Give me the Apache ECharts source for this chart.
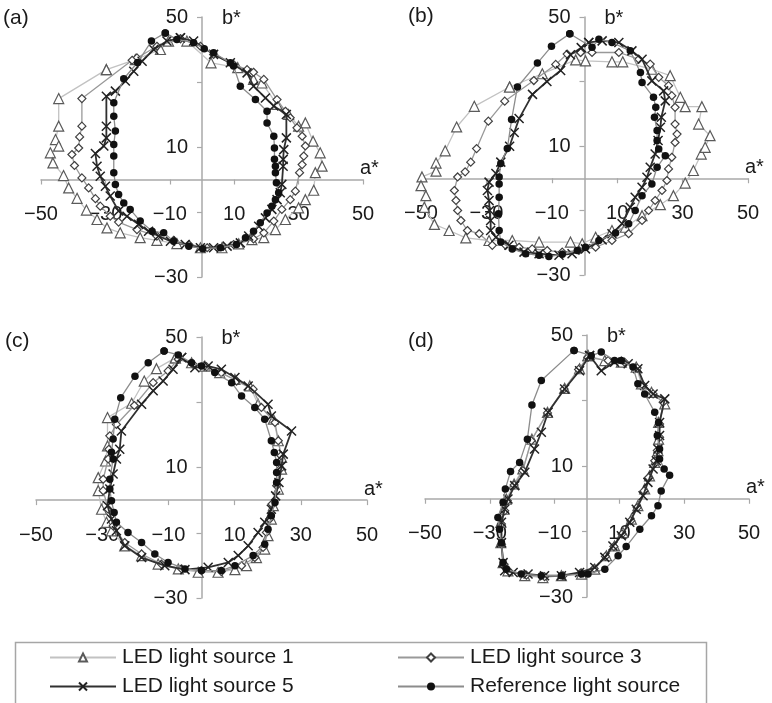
<!DOCTYPE html>
<html>
<head>
<meta charset="utf-8">
<script src="https://cdn.jsdelivr.net/npm/echarts@6/dist/echarts.min.js"></script>
<style>
html,body{margin:0;padding:0;background:#fff;}
#chart{width:772px;height:703px;}
</style>
</head>
<body>
<div id="chart"></div>
<script>
// ---- Tick labels ----
const xTicks = [-50, -30, -10, 10, 30, 50];
const yTicks = [-30, -10, 10, 30, 50];
const yLabelsShown = [-30, 10, 50];
const panelLabels = ['(a)', '(b)', '(c)', '(d)'];
const seriesNames = ['LED light source 1', 'LED light source 3', 'LED light source 5', 'Reference light source'];

// ---- Panel (a) data: [a*, b*] ----
const a_LED1 = [[-29.7,33.8],[-44.5,24.9],[-44.5,16.4],[-45.5,12.3],[-44.5,10.3],[-47.1,8.2],[-46.3,5.1],[-43.0,1.2],[-41.4,-2.6],[-38.8,-5.8],[-35.9,-9.4],[-32.6,-12.3],[-29.5,-14.9],[-25.4,-16.4],[-19.2,-17.9],[-14.0,-18.7],[-7.8,-19.7],[-0.5,-21.0],[6.2,-21.0],[11.4,-19.8],[15.5,-18.5],[19.2,-17.9],[22.8,-15.4],[25.9,-12.3],[30.0,-8.7],[32.1,-6.2],[34.7,-3.3],[35.2,2.1],[37.3,4.1],[36.7,8.2],[34.5,11.8],[32.1,17.4],[30.0,16.4],[26.9,20.0],[23.3,23.1],[18.6,29.7],[16.0,30.8],[11.1,34.4],[2.8,35.9],[-4.7,42.6],[-10.4,42.6],[-12.9,40.0],[-20.7,36.9],[-29.7,33.8]];
const a_LED3 = [[-6.7,43.3],[-14.0,41.0],[-20.2,37.4],[-21.7,36.7],[-37.3,24.9],[-37.3,16.4],[-38.0,13.1],[-38.3,9.7],[-40.4,7.7],[-39.6,4.3],[-37.3,0.5],[-35.2,-2.6],[-33.1,-5.9],[-31.6,-8.2],[-28.5,-11.3],[-25.9,-13.1],[-20.2,-15.4],[-14.0,-17.4],[-8.8,-18.7],[-4.1,-20.0],[1.6,-21.0],[9.8,-20.0],[16.0,-18.3],[19.2,-16.4],[22.3,-12.8],[24.8,-9.2],[27.4,-6.2],[29.0,-3.6],[30.3,2.1],[31.1,4.6],[31.6,7.2],[32.1,10.3],[31.1,13.3],[29.5,15.9],[27.4,19.0],[25.9,21.0],[23.3,24.6],[19.2,30.8],[16.0,33.0],[14.0,33.8],[9.8,35.4],[3.6,38.5],[-0.5,41.0],[-6.7,43.3]];
const a_LED5 = [[-6.7,43.6],[-2.6,42.6],[3.6,38.5],[8.8,35.9],[14.0,32.8],[16.0,28.7],[19.7,25.1],[22.3,22.6],[26.2,20.0],[26.2,12.8],[25.4,9.2],[25.2,6.2],[25.2,4.1],[24.8,-1.5],[24.3,-4.1],[23.3,-6.2],[21.7,-9.2],[19.7,-11.8],[17.6,-14.4],[14.5,-17.4],[11.9,-19.5],[7.8,-20.5],[3.6,-21.0],[-0.5,-21.0],[-5.2,-20.0],[-9.8,-19.0],[-13.5,-17.4],[-16.6,-15.9],[-19.7,-13.8],[-23.3,-11.3],[-25.9,-9.7],[-28.5,-5.1],[-30.0,-2.1],[-31.6,1.0],[-32.6,4.1],[-33.1,8.0],[-30.5,10.3],[-29.7,12.8],[-29.7,16.4],[-29.7,25.6],[-26.9,27.2],[-23.8,30.3],[-21.2,33.3],[-18.6,36.4],[-15.0,40.0],[-10.9,42.6],[-6.7,43.6]];
const a_Ref = [[-11.4,45.1],[-15.7,42.6],[-20.0,36.0],[-24.3,31.0],[-27.4,23.6],[-27.4,19.5],[-26.9,14.9],[-27.4,10.8],[-27.4,7.2],[-27.4,2.1],[-26.9,-1.5],[-25.9,-4.6],[-24.3,-7.2],[-22.3,-9.2],[-19.2,-12.8],[-15.5,-15.9],[-11.9,-16.4],[-8.8,-19.0],[-4.1,-20.5],[0.2,-21.3],[5.7,-21.0],[10.7,-20.0],[13.5,-17.9],[16.0,-15.9],[18.1,-13.3],[20.2,-10.3],[21.7,-8.2],[22.8,-6.2],[23.8,-4.1],[23.1,-1.0],[22.8,2.1],[22.8,4.1],[22.5,6.2],[22.5,9.7],[22.3,13.3],[20.2,17.4],[20.2,21.0],[16.6,24.6],[11.9,28.7],[9.8,34.9],[8.8,35.9],[3.6,39.0],[0.7,40.2],[-2.6,42.1],[-7.8,43.1],[-11.4,45.1]];

// ---- Panel (b) data ----
const b_LED1 = [[-22.9,28.3],[-33.7,22.3],[-39.1,15.9],[-42.6,8.5],[-45.4,4.7],[-45.4,2.2],[-49.7,0.4],[-50.0,-2.3],[-48.5,-5.4],[-49.0,-9.0],[-45.9,-14.3],[-41.4,-16.2],[-36.3,-18.5],[-29.2,-19.3],[-22.1,-19.3],[-13.9,-19.8],[-4.3,-19.8],[-0.7,-20.3],[3.4,-18.3],[8.4,-16.2],[12.5,-15.2],[17.6,-11.6],[23.2,-8.2],[27.2,-5.4],[30.8,-1.5],[33.3,2.4],[35.7,7.5],[36.9,9.6],[38.4,13.2],[34.9,16.8],[35.9,22.2],[30.8,22.2],[29.3,25.1],[26.2,31.8],[20.6,33.8],[11.7,36.1],[8.4,36.1],[0.3,36.4],[-2.7,36.7],[-12.9,32.4],[-22.9,28.3]];
const b_LED3 = [[-1.2,39.0],[2.3,39.0],[10.5,39.0],[16.6,36.9],[20.1,35.4],[22.7,31.3],[25.7,28.7],[26.7,25.6],[27.7,22.0],[27.7,16.8],[28.3,13.7],[27.7,11.1],[26.7,6.5],[25.7,2.9],[25.2,-0.7],[23.7,-3.8],[21.6,-6.9],[19.6,-10.0],[17.6,-13.1],[13.5,-17.2],[8.4,-19.3],[3.4,-21.4],[-1.7,-22.4],[-6.8,-22.9],[-11.4,-22.4],[-16.0,-21.9],[-20.0,-21.4],[-24.1,-20.8],[-28.2,-20.8],[-32.2,-17.2],[-35.8,-16.2],[-37.8,-13.1],[-38.8,-10.0],[-39.3,-6.9],[-39.8,-3.8],[-38.8,0.4],[-36.5,2.0],[-34.8,5.0],[-33.0,9.2],[-29.4,17.7],[-24.4,23.9],[-15.5,30.3],[-8.8,35.3],[-5.3,38.5],[-1.2,39.0]];
const b_LED5 = [[1.3,42.1],[5.4,42.6],[10.5,42.1],[14.5,39.5],[17.6,36.9],[20.6,30.2],[24.2,27.1],[24.7,24.0],[23.5,18.9],[23.2,15.8],[22.5,11.7],[21.6,7.5],[20.1,3.4],[19.1,0.3],[17.6,-2.8],[15.5,-5.9],[14.0,-9.0],[11.5,-14.1],[8.4,-17.2],[5.4,-19.1],[0.3,-21.9],[-3.8,-23.4],[-7.8,-23.9],[-13.9,-23.4],[-18.5,-22.9],[-23.1,-20.8],[-27.1,-18.3],[-28.7,-16.2],[-28.7,-13.1],[-29.0,-10.0],[-29.2,-6.9],[-29.7,-3.8],[-29.2,-1.2],[-27.1,1.5],[-25.6,5.0],[-22.9,9.9],[-21.5,14.2],[-20.0,18.5],[-15.9,26.0],[-11.5,30.0],[-7.3,33.4],[-4.3,38.3],[-1.0,40.5],[1.3,42.1]];
const b_Ref = [[-4.5,44.8],[-10.1,40.9],[-14.4,35.7],[-20.5,28.3],[-22.3,18.2],[-23.6,9.2],[-25.6,4.6],[-26.1,0.4],[-26.1,-1.8],[-26.1,-5.9],[-26.3,-11.0],[-26.1,-16.2],[-25.6,-19.8],[-22.1,-21.9],[-18.0,-23.4],[-13.9,-23.9],[-10.9,-24.3],[-6.8,-23.6],[-2.2,-22.4],[0.3,-21.4],[4.4,-19.3],[9.5,-17.0],[13.5,-14.1],[15.5,-10.0],[17.6,-5.4],[20.6,-1.8],[22.2,3.4],[24.7,7.0],[22.7,9.1],[22.2,11.7],[22.2,14.8],[21.4,18.9],[21.8,22.0],[21.1,25.1],[17.6,29.7],[17.1,32.8],[14.0,39.5],[8.4,42.1],[4.4,43.1],[2.3,40.6],[-4.5,44.8]];

// ---- Panel (c) data ----
const c_LED1 = [[-7.9,43.6],[-13.6,40.3],[-17.3,36.5],[-21.1,29.7],[-28.4,25.3],[-28.4,16.6],[-29.0,12.0],[-31.2,6.9],[-31.2,2.9],[-30.2,-2.8],[-28.7,-6.8],[-27.2,-9.4],[-23.2,-14.0],[-18.1,-17.0],[-13.1,-19.6],[-7.0,-21.1],[-1.0,-22.1],[5.0,-22.1],[10.1,-21.3],[13.6,-20.1],[16.6,-17.6],[19.1,-15.0],[20.1,-10.9],[21.1,-5.8],[21.7,-1.7],[23.2,3.4],[24.2,9.5],[24.2,13.1],[23.2,18.2],[21.7,24.8],[17.1,29.4],[14.6,35.0],[10.1,37.0],[5.5,39.1],[1.0,41.1],[-3.0,42.1],[-7.9,43.6]];
const c_LED3 = [[-7.0,43.2],[-10.1,39.6],[-14.6,36.0],[-20.3,29.0],[-25.7,23.2],[-27.7,19.7],[-28.0,15.6],[-28.2,12.6],[-29.7,6.4],[-29.7,2.9],[-28.2,-2.8],[-26.7,-7.9],[-23.2,-13.0],[-18.1,-16.5],[-12.1,-19.6],[-6.0,-21.1],[0.0,-21.6],[6.0,-21.9],[12.1,-20.1],[16.1,-17.6],[18.6,-14.5],[19.6,-9.9],[20.6,-5.8],[21.3,-1.2],[22.7,4.4],[23.7,9.5],[24.0,13.6],[23.2,18.2],[22.2,23.8],[18.1,28.4],[15.6,34.0],[10.6,36.5],[6.0,39.1],[1.5,40.9],[-2.5,41.6],[-7.0,43.2]];
const c_LED5 = [[-6.0,43.7],[-8.6,40.1],[-11.6,36.5],[-14.6,33.5],[-18.1,29.4],[-24.2,21.2],[-24.7,15.6],[-25.7,12.6],[-26.7,8.0],[-27.7,3.4],[-28.4,-1.7],[-27.2,-5.8],[-25.7,-9.4],[-23.2,-14.0],[-18.1,-17.6],[-11.1,-20.1],[-5.0,-21.3],[2.0,-20.6],[8.1,-19.1],[11.1,-17.0],[14.1,-14.0],[17.1,-9.9],[19.1,-6.8],[21.1,-2.8],[22.4,1.3],[23.4,5.4],[24.2,10.5],[24.7,14.1],[27.2,21.2],[21.1,25.8],[20.1,29.4],[14.1,35.0],[10.1,37.6],[6.0,40.1],[2.0,41.1],[-2.0,40.6],[-6.0,43.7]];
const c_Ref = [[-11.3,45.7],[-16.1,42.1],[-20.1,38.0],[-24.4,31.4],[-26.2,24.8],[-26.7,18.7],[-27.2,14.7],[-26.7,12.6],[-27.7,6.4],[-27.7,3.4],[-27.2,-0.2],[-26.4,-3.8],[-25.7,-6.8],[-22.2,-9.9],[-18.1,-13.0],[-14.1,-16.5],[-10.1,-19.1],[-5.0,-21.1],[0.0,-21.6],[6.0,-21.6],[10.1,-20.1],[15.6,-17.0],[19.1,-13.5],[20.1,-8.9],[21.1,-4.8],[22.2,-0.7],[22.7,5.4],[22.7,8.5],[22.7,11.5],[22.0,14.6],[21.1,18.2],[19.1,24.8],[16.1,28.4],[12.1,31.9],[9.1,36.0],[4.0,39.1],[0.0,41.1],[-3.0,42.1],[-7.0,44.5],[-11.3,45.7]];

// ---- Panel (d) data ----
const d_LED1 = [[0.3,43.7],[5.5,42.2],[10.6,41.7],[15.2,40.2],[16.8,35.1],[19.9,32.5],[24.0,29.0],[22.1,23.3],[22.1,18.2],[21.9,14.7],[20.9,11.1],[19.3,7.0],[17.8,3.0],[15.7,-2.1],[13.7,-6.2],[11.1,-10.3],[8.5,-14.4],[6.0,-17.4],[2.4,-21.5],[-1.7,-23.0],[-7.9,-23.5],[-13.6,-24.1],[-19.2,-23.5],[-24.4,-22.0],[-25.9,-19.5],[-26.6,-13.4],[-26.6,-7.2],[-25.6,-3.2],[-24.9,-0.1],[-22.5,4.5],[-19.8,9.1],[-17.0,18.2],[-12.2,26.4],[-6.9,33.7],[-2.3,39.7],[0.3,43.7]];
const d_LED3 = [[0.3,43.2],[6.5,42.2],[11.6,41.7],[15.5,39.9],[17.3,34.6],[20.4,32.0],[23.5,29.5],[22.4,22.8],[22.4,18.8],[21.7,14.7],[20.9,11.6],[19.0,6.5],[17.6,2.4],[15.5,-2.7],[13.5,-6.7],[10.8,-10.8],[8.3,-14.6],[5.7,-17.6],[2.2,-21.3],[-2.0,-22.7],[-7.4,-23.5],[-13.1,-23.8],[-18.7,-23.3],[-23.9,-22.3],[-25.6,-20.0],[-26.4,-13.9],[-26.4,-7.7],[-25.4,-3.7],[-24.6,-0.6],[-22.5,4.2],[-19.8,8.6],[-17.2,17.7],[-12.2,26.2],[-7.1,33.5],[-2.6,39.5],[0.3,43.2]];
const d_LED5 = [[0.8,43.7],[4.4,39.1],[8.5,41.7],[12.7,41.2],[15.7,39.7],[17.8,34.6],[20.4,32.0],[24.0,30.5],[22.4,23.3],[22.4,19.3],[21.9,15.2],[21.4,11.6],[20.4,9.1],[18.8,5.0],[17.3,0.9],[15.2,-3.2],[13.2,-7.2],[10.6,-11.3],[8.0,-14.4],[5.5,-17.9],[2.4,-21.0],[-2.3,-22.5],[-7.9,-23.5],[-13.1,-23.5],[-18.2,-23.0],[-22.8,-22.5],[-25.4,-22.0],[-25.9,-19.5],[-26.4,-13.4],[-26.4,-7.2],[-25.4,-3.2],[-24.4,-0.1],[-22.3,4.0],[-19.2,8.1],[-16.2,15.2],[-14.1,20.3],[-12.0,26.4],[-6.9,33.5],[-2.3,39.1],[0.8,43.7]];
const d_Ref = [[-4.0,45.3],[-14.1,36.1],[-17.0,28.6],[-18.4,18.2],[-20.8,11.1],[-23.6,8.3],[-25.2,3.0],[-25.9,-1.1],[-27.5,-5.7],[-27.0,-9.3],[-26.4,-13.4],[-25.9,-19.5],[-24.9,-21.5],[-20.3,-23.0],[-14.1,-23.5],[-7.9,-23.5],[-1.7,-23.0],[0.3,-23.0],[5.5,-21.5],[9.6,-17.4],[12.1,-14.6],[16.3,-9.3],[19.9,-5.2],[21.9,-2.1],[22.9,2.4],[25.5,7.2],[23.8,9.1],[22.4,12.1],[22.4,15.2],[21.7,19.3],[22.1,23.3],[20.9,26.4],[17.8,32.0],[15.7,35.1],[14.2,40.2],[10.6,42.2],[8.5,42.2],[4.4,44.8],[1.3,43.7],[-4.0,45.3]];

const panelData = [
  [a_LED1, a_LED3, a_LED5, a_Ref],
  [b_LED1, b_LED3, b_LED5, b_Ref],
  [c_LED1, c_LED3, c_LED5, c_Ref],
  [d_LED1, d_LED3, d_LED5, d_Ref]
];

// ---- Layout / styles ----
const FONT = 'Liberation Sans, Arial, Helvetica, sans-serif';
const grids = [
  {left: 41, top: 17, width: 322, height: 260},
  {left: 421, top: 17, width: 327, height: 258},
  {left: 36, top: 337, width: 331, height: 261},
  {left: 425, top: 335, width: 324, height: 262}
];
const labelPos = [[3, 8], [408, 6], [5, 331], [408, 331]];
const axisColor = '#a9a9a9';
const crossPath = 'path://M0,0L10,10M0,10L10,0';
const seriesStyles = [
  {symbol: 'triangle', symbolSize: 10, line: {color: '#c2c2c2', width: 1.3}, item: {color: '#ffffff', borderColor: '#5a5a5a', borderWidth: 1.2}, z: 2},
  {symbol: 'diamond', symbolSize: 8, line: {color: '#999999', width: 1.3}, item: {color: '#ffffff', borderColor: '#404040', borderWidth: 1.2}, z: 3},
  {symbol: crossPath, symbolSize: 9, line: {color: '#303030', width: 1.8}, item: {color: '#222222', borderColor: '#222222', borderWidth: 1.5}, z: 4},
  {symbol: 'circle', symbolSize: 7.5, line: {color: '#8c8c8c', width: 1.3}, item: {color: '#111111', borderColor: '#111111', borderWidth: 0}, z: 5}
];

const fmt = v => (v < 0 ? '\u2212' + Math.abs(v) : String(v));
const xMin = xTicks[0], xMax = xTicks[xTicks.length - 1];
const yMin = yTicks[0], yMax = yTicks[yTicks.length - 1];

// Axes cross at the origin: shift each axis from the grid edge to the zero line.
const xAxes = grids.map((g, i) => ({
  type: 'value', gridIndex: i, min: xMin, max: xMax, interval: 20,
  position: 'bottom', offset: -g.height * (0 - yMin) / (yMax - yMin),
  axisLine: {onZero: false, lineStyle: {color: axisColor, width: 1.5}},
  axisTick: {show: true, length: 5, lineStyle: {color: axisColor, width: 1.2}},
  axisLabel: {fontSize: 20, fontFamily: FONT, color: '#1a1a1a', margin: 25,
    formatter: v => xTicks.indexOf(v) >= 0 ? fmt(v) : ''},
  splitLine: {show: false},
  name: 'a*', nameLocation: 'end', nameGap: -3,
  nameTextStyle: {fontSize: 20, fontFamily: FONT, color: '#1a1a1a', align: 'left', verticalAlign: 'bottom', padding: [0, 0, 1, 0]}
}));
const yAxes = grids.map((g, i) => ({
  type: 'value', gridIndex: i, min: yMin, max: yMax, interval: 20,
  position: 'left', offset: -g.width * (0 - xMin) / (xMax - xMin),
  axisLine: {onZero: false, lineStyle: {color: axisColor, width: 1.5}},
  axisTick: {show: true, length: 5, lineStyle: {color: axisColor, width: 1.2}},
  axisLabel: {fontSize: 20, fontFamily: FONT, color: '#1a1a1a', margin: 14,
    formatter: v => yLabelsShown.indexOf(v) >= 0 ? fmt(v) : ''},
  splitLine: {show: false},
  name: 'b*', nameLocation: 'end', nameGap: -1,
  nameTextStyle: {fontSize: 20, fontFamily: FONT, color: '#1a1a1a', align: 'left', verticalAlign: 'middle', padding: [0, 0, 0, 20]}
}));

const series = [];
panelData.forEach((arrs, p) => {
  arrs.forEach((d, s) => {
    const st = seriesStyles[s];
    series.push({
      type: 'line', name: seriesNames[s], xAxisIndex: p, yAxisIndex: p,
      data: d, symbol: st.symbol, symbolSize: st.symbolSize, showSymbol: true,
      lineStyle: st.line, itemStyle: st.item, z: st.z, silent: true,
      emphasis: {disabled: true}
    });
  });
});

const legendPos = [[49, 647], [397, 647], [49, 676], [397, 676]];
const legends = seriesNames.map((nm, i) => ({
  data: [nm], left: legendPos[i][0], top: legendPos[i][1],
  itemWidth: 66, itemHeight: 10, padding: 0, selectedMode: false,
  textStyle: {fontSize: 21, fontFamily: FONT, color: '#1a1a1a', padding: [0, 0, 0, 1]}
}));

const graphics = panelLabels.map((t, i) => ({
  type: 'text', left: labelPos[i][0], top: labelPos[i][1],
  style: {text: t, fontSize: 21, fontFamily: FONT, fill: '#1a1a1a'}
}));
graphics.push({
  type: 'rect', left: 13, top: 640, shape: {width: 691, height: 80},
  style: {fill: 'none', stroke: '#a6a6a6', lineWidth: 1.5}, z: -1
});

const chart = echarts.init(document.getElementById('chart'), null, {renderer: 'canvas'});
chart.setOption({
  animation: false,
  backgroundColor: '#ffffff',
  grid: grids,
  xAxis: xAxes,
  yAxis: yAxes,
  legend: legends,
  graphic: graphics,
  series: series
});
</script>
</body>
</html>
